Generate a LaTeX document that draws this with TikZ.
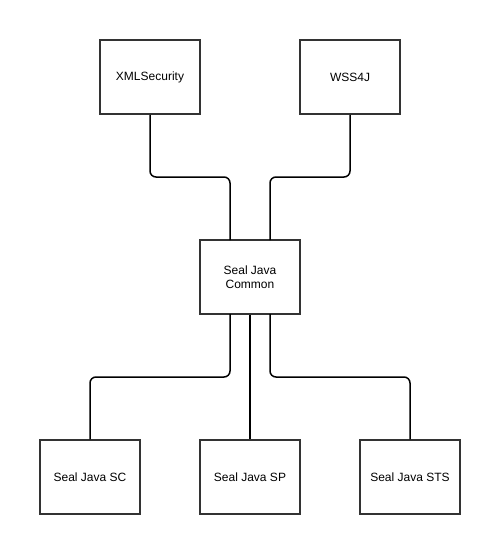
\documentclass[tikz,border=0pt]{standalone}
\usepackage{fontspec}
\setmainfont{Liberation Sans}
\begin{document}
\begin{tikzpicture}[x=1pt,y=-1pt,
  box/.style={draw=black!80,line width=1.5pt,fill=white,minimum width=100pt,minimum height=74pt,inner sep=0pt,align=center,font=\fontsize{12pt}{14pt}\selectfont},
  link/.style={draw=black,line width=1.5pt,rounded corners=6pt}]
\useasboundingbox (0,0) rectangle (480,535);
\node[box] (xml) at (150,77) {XMLSecurity};
\node[box] (wss) at (350,77) {WSS4J};
\node[box] (com) at (250,277) {Seal Java\\Common};
\node[box] (sc) at (90,477) {Seal Java SC};
\node[box] (sp) at (250,477) {Seal Java SP};
\node[box] (sts) at (410,477) {Seal Java STS};
\coordinate (c1) at (230,240);
\coordinate (c2) at (270,240);
\coordinate (c3) at (230,314);
\coordinate (c4) at (270,314);
\draw[link] (xml.south) |- (190,177) -| (c1);
\draw[link] (wss.south) |- (310,177) -| (c2);
\draw[link] (c3) |- (160,377) -| (sc.north);
\draw[link] (com.south) -- (sp.north);
\draw[link] (c4) |- (340,377) -| (sts.north);
\end{tikzpicture}
\end{document}
